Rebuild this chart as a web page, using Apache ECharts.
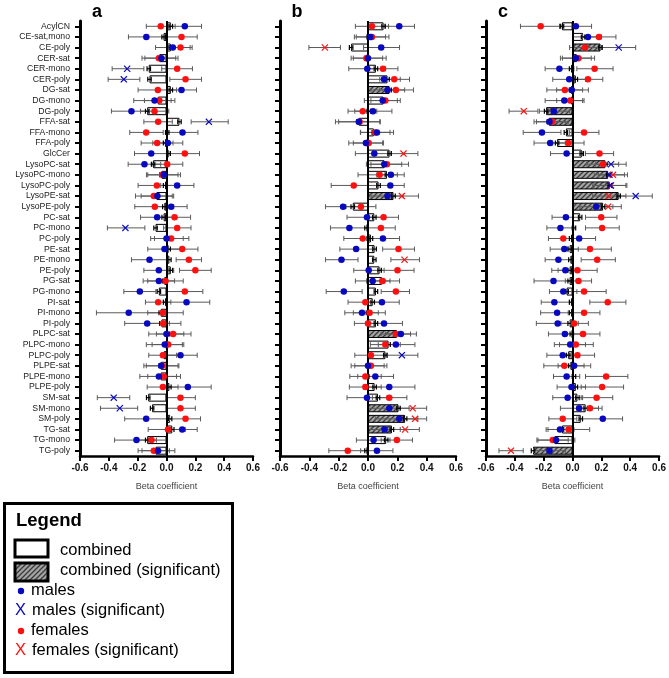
<!DOCTYPE html>
<html><head><meta charset="utf-8">
<script src="https://cdn.jsdelivr.net/npm/echarts@6/dist/echarts.min.js"></script>
<style>html,body{margin:0;padding:0;background:#fff}#c{width:669px;height:678px}</style>
</head><body><div id="c"></div>
<script>
const categories = ['AcylCN','CE-sat,mono','CE-poly','CER-sat','CER-mono','CER-poly','DG-sat','DG-mono','DG-poly','FFA-sat','FFA-mono','FFA-poly','GlcCer','LysoPC-sat','LysoPC-mono','LysoPC-poly','LysoPE-sat','LysoPE-poly','PC-sat','PC-mono','PC-poly','PE-sat','PE-mono','PE-poly','PG-sat','PG-mono','PI-sat','PI-mono','PI-poly','PLPC-sat','PLPC-mono','PLPC-poly','PLPE-sat','PLPE-mono','PLPE-poly','SM-sat','SM-mono','SM-poly','TG-sat','TG-mono','TG-poly'];
const panelLabels = ['a','b','c'];
const xMin = -0.6, xMax = 0.6, xStep = 0.2;
const COMB_ERR = 0.012;

// ---- panel a ----
const aComb = [0.03,-0.02,0.03,-0.05,-0.123,-0.118,0.03,-0.06,-0.134,0.09,0.005,-0.01,0.015,-0.093,-0.035,-0.01,-0.07,-0.015,-0.02,-0.076,0.005,0.015,0.02,0.03,-0.015,-0.053,-0.01,-0.04,-0.035,0.01,-0.005,-0.02,-0.04,-0.04,0.02,-0.127,-0.1,0.025,0.04,-0.134,-0.076];
const aCombSig = [];
const aMale = [[0.127,0.011,0.243],[-0.14,-0.264,-0.02],[0.044,-0.076,0.164],[-0.035,-0.15,0.08],[-0.273,-0.377,-0.157],[-0.296,-0.405,-0.185],[0.104,0.0,0.208],[-0.083,-0.227,0.032],[-0.243,-0.382,-0.12],[0.294,0.171,0.428],[0.111,0.003,0.218],[0.009,-0.095,0.113],[-0.106,-0.222,0.01],[-0.153,-0.266,-0.04],[-0.019,-0.13,0.097],[0.074,-0.04,0.19],[-0.063,-0.176,0.05],[0.032,-0.08,0.143],[-0.065,-0.18,0.05],[-0.285,-0.41,-0.15],[0,-0.11,0.116],[-0.014,-0.13,0.1],[-0.118,-0.243,0.007],[-0.053,-0.157,0.05],[-0.053,-0.162,0.056],[-0.185,-0.296,-0.074],[0.139,-0.02,0.3],[-0.262,-0.486,-0.04],[-0.134,-0.29,0.02],[0,-0.123,0.12],[-0.012,-0.14,0.11],[0.097,-0.02,0.213],[-0.037,-0.157,0.08],[-0.053,-0.185,0.07],[0.148,0.0,0.31],[-0.366,-0.48,-0.255],[-0.324,-0.458,-0.2],[-0.141,-0.29,0.0],[0.109,0.0,0.213],[-0.208,-0.36,-0.07],[-0.058,-0.17,0.058]];
const aMaleSig = [4,5,9,19,35,36];
const aFemale = [[-0.04,-0.14,0.06],[0.104,-0.005,0.213],[0.097,0.017,0.178],[-0.053,-0.17,0.064],[0.074,-0.033,0.18],[0.132,0.023,0.243],[-0.06,-0.197,0.07],[-0.05,-0.153,0.058],[-0.083,-0.18,0.016],[-0.058,-0.157,0.04],[-0.141,-0.255,-0.023],[-0.065,-0.176,0.045],[0.127,0.025,0.229],[0.005,-0.1,0.113],[-0.03,-0.139,0.08],[-0.067,-0.197,0.06],[-0.088,-0.215,0.04],[-0.081,-0.22,0.05],[0.056,-0.055,0.167],[0.074,-0.02,0.17],[0.032,-0.083,0.155],[0.109,0.0,0.218],[0.155,0.067,0.243],[0.2,0.09,0.31],[-0.007,-0.13,0.116],[0.127,0.002,0.252],[-0.058,-0.146,0.03],[-0.025,-0.13,0.116],[-0.023,-0.14,0.1],[0.046,-0.07,0.17],[0.012,-0.1,0.12],[-0.025,-0.123,0.07],[-0.03,-0.14,0.086],[-0.019,-0.13,0.097],[-0.025,-0.134,0.08],[0.097,-0.005,0.2],[0.097,0.0,0.2],[0.132,0.02,0.236],[0.01,-0.127,0.13],[-0.104,-0.21,0.0],[-0.088,-0.197,0.02]];
const aFemaleSig = [];

// ---- panel b ----
const bComb = [0.106,0.005,-0.115,-0.01,0.054,0.133,0.147,0.106,0.005,-0.063,0.04,-0.01,0.147,0.113,0.129,0.072,0.174,-0.104,0.043,-0.01,0.02,0.045,0.043,0.079,0.095,0.054,0.032,0,0.054,0.197,0.14,0.118,0.005,-0.005,0.045,0.068,0.208,0.253,0.163,0.124,-0.01];
const bCombSig = [6,16,29,36,37,38];
const bMale = [[0.213,0.11,0.317],[0.016,-0.093,0.12],[0.09,-0.03,0.215],[0,-0.1,0.124],[-0.005,-0.131,0.12],[0.109,0.0,0.22],[0.133,0.02,0.25],[0.1,-0.025,0.2],[0.034,-0.09,0.163],[-0.063,-0.222,0.08],[0.061,-0.05,0.174],[-0.014,-0.131,0.1],[0.043,-0.086,0.15],[0.111,-0.011,0.23],[0.156,0.06,0.247],[0.152,0.06,0.247],[0.133,0.02,0.24],[-0.17,-0.29,-0.05],[-0.007,-0.143,0.12],[-0.127,-0.256,0.0],[0.102,-0.01,0.215],[-0.081,-0.192,0.03],[-0.181,-0.29,-0.068],[0.005,-0.097,0.11],[0.032,-0.086,0.15],[-0.165,-0.285,-0.04],[0.095,-0.02,0.213],[-0.041,-0.158,0.07],[0.109,-0.01,0.235],[0.224,0.12,0.33],[0.19,0.07,0.32],[0.231,0.12,0.34],[0,-0.115,0.11],[0.05,-0.07,0.174],[0.145,-0.03,0.32],[-0.007,-0.143,0.13],[0.145,0.0,0.28],[0.213,0.05,0.34],[0.113,0.0,0.22],[0.038,-0.079,0.15],[0.061,-0.05,0.17]];
const bMaleSig = [31];
const bFemale = [[0.027,-0.086,0.14],[0.027,-0.08,0.143],[-0.294,-0.403,-0.188],[-0.011,-0.115,0.1],[0.102,0.0,0.204],[0.179,0.08,0.283],[0.19,0.08,0.31],[0.118,0.02,0.22],[-0.036,-0.136,0.06],[-0.057,-0.2,0.084],[0.05,-0.052,0.15],[0.005,-0.1,0.106],[0.242,0.14,0.34],[0.129,0.02,0.276],[0.079,-0.068,0.2],[-0.097,-0.251,0.06],[0.231,0.12,0.344],[-0.048,-0.15,0.054],[0.106,0.0,0.208],[0.088,-0.01,0.186],[-0.036,-0.165,0.09],[0.208,0.1,0.317],[0.249,0.156,0.351],[0.201,0.09,0.314],[0.1,-0.01,0.215],[0.19,0.09,0.283],[-0.018,-0.136,0.1],[0.011,-0.1,0.118],[0,-0.093,0.1],[0.19,0.09,0.29],[0.118,0.016,0.22],[0.02,-0.09,0.13],[0.02,-0.09,0.129],[-0.018,-0.124,0.09],[-0.018,-0.127,0.09],[0.145,0.03,0.265],[0.305,0.21,0.4],[0.321,0.24,0.4],[0.253,0.15,0.35],[0.197,0.09,0.303],[-0.138,-0.267,-0.01]];
const bFemaleSig = [2,12,16,22,36,37,38];

// ---- panel c ----
const cComb = [-0.073,0.073,0.194,0.03,-0.01,0.023,-0.01,-0.01,-0.183,-0.164,-0.046,-0.107,0.064,0.228,0.247,0.258,0.32,0.212,0.053,0.01,-0.01,-0.02,-0.015,-0.02,-0.02,-0.041,-0.01,-0.01,-0.02,-0.005,0,-0.03,-0.015,0.01,0.023,0.034,0.091,0.057,-0.073,-0.126,-0.274];
const cCombSig = [2,8,9,13,14,15,16,17,40];
const cMale = [[0.023,-0.09,0.132],[0.107,0.0,0.2],[0.32,0.2,0.438],[0.023,-0.084,0.13],[-0.091,-0.19,0.01],[-0.023,-0.137,0.09],[-0.005,-0.11,0.11],[-0.057,-0.19,0.07],[-0.13,-0.23,-0.02],[-0.16,-0.267,-0.05],[-0.212,-0.342,-0.08],[-0.155,-0.267,-0.05],[-0.041,-0.153,0.07],[0.267,0.16,0.372],[0.256,0.15,0.36],[0.263,0.14,0.377],[0.438,0.33,0.553],[0.164,0.05,0.28],[-0.046,-0.142,0.05],[-0.084,-0.178,0.01],[0.046,-0.06,0.16],[-0.057,-0.155,0.04],[-0.098,-0.19,0.0],[-0.05,-0.144,0.04],[-0.132,-0.267,0.0],[-0.064,-0.16,0.03],[-0.126,-0.217,-0.02],[-0.107,-0.221,0.0],[-0.103,-0.251,0.04],[-0.053,-0.167,0.06],[-0.016,-0.126,0.09],[-0.068,-0.178,0.04],[0.011,-0.1,0.126],[-0.041,-0.132,0.05],[-0.007,-0.107,0.09],[-0.034,-0.137,0.07],[0.046,-0.084,0.18],[0.21,0.07,0.347],[-0.087,-0.183,0.01],[-0.114,-0.24,0.016],[-0.16,-0.27,-0.05]];
const cMaleSig = [2,13,14,15,16];
const cFemale = [[-0.221,-0.361,-0.08],[0.183,0.07,0.301],[0.087,-0.02,0.2],[0.041,-0.07,0.153],[0.153,0.03,0.281],[0.107,0.0,0.21],[-0.053,-0.178,0.07],[-0.016,-0.11,0.08],[-0.338,-0.44,-0.24],[-0.142,-0.25,-0.03],[0.08,-0.02,0.183],[-0.03,-0.14,0.08],[0.187,0.09,0.285],[0.212,0.1,0.32],[0.281,0.18,0.381],[0.267,0.15,0.37],[0.251,0.14,0.37],[0.247,0.15,0.338],[0.199,0.09,0.308],[0.205,0.09,0.324],[-0.064,-0.167,0.04],[0.121,-0.03,0.269],[0.171,0.06,0.297],[0.034,-0.1,0.171],[0.041,-0.05,0.132],[0.08,-0.04,0.233],[0.244,0.12,0.37],[0.08,-0.03,0.19],[0.011,-0.08,0.11],[0.073,-0.04,0.19],[0.023,-0.09,0.144],[0.034,-0.08,0.153],[-0.057,-0.199,0.08],[0.233,0.09,0.384],[0.205,0.06,0.354],[0.167,0.06,0.279],[0.121,0.03,0.205],[-0.068,-0.164,0.03],[-0.027,-0.17,0.119],[-0.137,-0.247,-0.03],[-0.427,-0.51,-0.342]];
const cFemaleSig = [8,14,15,16,17,40];

const panels = [
  {comb:aComb, combSig:aCombSig, male:aMale, maleSig:aMaleSig, fem:aFemale, femSig:aFemaleSig},
  {comb:bComb, combSig:bCombSig, male:bMale, maleSig:bMaleSig, fem:bFemale, femSig:bFemaleSig},
  {comb:cComb, combSig:cCombSig, male:cMale, maleSig:cMaleSig, fem:cFemale, femSig:cFemaleSig}
];

const FONT = "'Liberation Sans', Arial, sans-serif";
const BLUE = '#0808c0', RED = '#ff1010', CI_GREY = '#5a5a5a';
const gridPos = [{left:80,width:173},{left:280,width:176},{left:486,width:175}];
const titleX = [97, 297, 503];

function makeHatch(){
  const c = document.createElement('canvas'); c.width = 5; c.height = 5;
  const g = c.getContext('2d');
  g.fillStyle = '#a4a4a4'; g.fillRect(0,0,5,5);
  g.strokeStyle = '#3a3a3a'; g.lineWidth = 1.3;
  g.beginPath();
  g.moveTo(-1,6); g.lineTo(6,-1);
  g.moveTo(-1,1); g.lineTo(1,-1);
  g.moveTo(4,6); g.lineTo(6,4);
  g.stroke();
  return c;
}
const hatchImg = makeHatch();
const hatchFill = {image: hatchImg, repeat: 'repeat'};

const XPATH = 'path://M0,1.2L1.2,0L5,3.8L8.8,0L10,1.2L6.2,5L10,8.8L8.8,10L5,6.2L1.2,10L0,8.8L3.8,5Z';

function ciRender(color, lw, cap){
  return function(params, api){
    const lo = api.value(1), hi = api.value(2), cat = api.value(3);
    const p1 = api.coord([lo, cat]), p2 = api.coord([hi, cat]);
    const st = {stroke: color, lineWidth: lw};
    return {type:'group', children:[
      {type:'line', shape:{x1:p1[0],y1:p1[1],x2:p2[0],y2:p2[1]}, style:st},
      {type:'line', shape:{x1:p1[0],y1:p1[1]-cap,x2:p1[0],y2:p1[1]+cap}, style:st},
      {type:'line', shape:{x1:p2[0],y1:p2[1]-cap,x2:p2[0],y2:p2[1]+cap}, style:st}
    ]};
  };
}

const grid = [], xAxis = [], yAxis = [], series = [];
panels.forEach((p, i) => {
  grid.push({left: gridPos[i].left, width: gridPos[i].width, top: 21, height: 435});
  xAxis.push({gridIndex:i, type:'value', min:xMin, max:xMax, interval:xStep,
    name:'Beta coefficient', nameLocation:'middle', nameGap:26,
    nameTextStyle:{fontSize:9, color:'#444', fontFamily:FONT},
    axisLine:{show:true, onZero:false, lineStyle:{color:'#000', width:2.5}},
    axisTick:{show:true, length:5, lineStyle:{color:'#000', width:2}},
    axisLabel:{fontSize:10, fontWeight:'bold', color:'#111', margin:7, fontFamily:FONT,
      formatter: v => Math.abs(v) < 1e-9 ? '0.0' : v.toFixed(1)},
    splitLine:{show:false}});
  yAxis.push({gridIndex:i, type:'category', data:categories, inverse:true,
    axisLine:{show:true, onZero:false, lineStyle:{color:'#000', width:3}},
    axisTick:{show:true, alignWithLabel:true, interval:0, length:5, lineStyle:{color:'#000', width:2}},
    axisLabel:{show:i===0, interval:0, fontSize:8.7, color:'#222', margin:10, fontFamily:FONT},
    splitLine:{show:false}});
  const sigSet = new Set(p.combSig);
  series.push({type:'bar', xAxisIndex:i, yAxisIndex:i, barWidth:8, z:2,
    data: p.comb.map((v, k) => sigSet.has(k)
      ? {value:v, itemStyle:{color:hatchFill, borderColor:'#000', borderWidth:1}}
      : {value:v, itemStyle:{color:'#fff', borderColor:'#000', borderWidth:1}}),
    markLine:{silent:true, symbol:'none', label:{show:false}, animation:false,
      lineStyle:{color:'#000', width:2, type:'solid'}, data:[{xAxis:0}]}
  });
  const ciData = (arr) => arr.map((t, k) => [t[0], t[1], t[2], k]);
  series.push({type:'custom', xAxisIndex:i, yAxisIndex:i, z:3, renderItem: ciRender(CI_GREY, 1, 2.5),
    encode:{x:[0,1,2], y:3}, data: ciData(p.male)});
  series.push({type:'custom', xAxisIndex:i, yAxisIndex:i, z:3, renderItem: ciRender(CI_GREY, 1, 2.5),
    encode:{x:[0,1,2], y:3}, data: ciData(p.fem)});
  series.push({type:'custom', xAxisIndex:i, yAxisIndex:i, z:4, renderItem: ciRender('#000', 1.2, 2.5),
    encode:{x:[0,1,2], y:3}, data: p.comb.map((v, k) => [v, v - COMB_ERR, v + COMB_ERR, k])});
  const mSig = new Set(p.maleSig), fSig = new Set(p.femSig);
  const pts = (arr, set, want) => arr.map((t, k) => [t[0], k]).filter((d, k) => set.has(k) === want);
  series.push({type:'scatter', xAxisIndex:i, yAxisIndex:i, z:5, symbol:'circle', symbolSize:6.5,
    itemStyle:{color:RED, opacity:1}, data: pts(p.fem, fSig, false)});
  series.push({type:'scatter', xAxisIndex:i, yAxisIndex:i, z:5, symbol:'circle', symbolSize:6.5,
    itemStyle:{color:BLUE, opacity:1}, data: pts(p.male, mSig, false)});
  series.push({type:'scatter', xAxisIndex:i, yAxisIndex:i, z:6, symbol:XPATH, symbolSize:7,
    itemStyle:{color:RED, opacity:1}, data: pts(p.fem, fSig, true)});
  series.push({type:'scatter', xAxisIndex:i, yAxisIndex:i, z:6, symbol:XPATH, symbolSize:7,
    itemStyle:{color:BLUE, opacity:1}, data: pts(p.male, mSig, true)});
});

const graphic = [];
panelLabels.forEach((t, i) => graphic.push({type:'text', x:titleX[i], y:12,
  style:{text:t, font:"bold 18px " + FONT, fill:'#000', textAlign:'center', textVerticalAlign:'middle', align:'center', verticalAlign:'middle'}}));
// legend box
graphic.push({type:'rect', shape:{x:4.5, y:503.5, width:228, height:169}, style:{fill:'#fff', stroke:'#000', lineWidth:3}});
const lt = (text, x, y, size, bold, color) => ({type:'text', x:x, y:y,
  style:{text:text, font:(bold?'bold ':'') + size + 'px ' + FONT, fill:color||'#000', textAlign:'left', textVerticalAlign:'middle', align:'left', verticalAlign:'middle'}});
graphic.push(lt('Legend', 16, 521, 18.5, true));
graphic.push({type:'rect', shape:{x:15, y:540, width:33, height:17}, style:{fill:'#fff', stroke:'#000', lineWidth:3}});
graphic.push(lt('combined', 60, 550, 16.5));
graphic.push({type:'rect', shape:{x:15, y:563, width:33, height:18}, style:{fill:hatchFill, stroke:'#000', lineWidth:3}});
graphic.push(lt('combined (significant)', 60, 570, 16.5));
graphic.push({type:'circle', shape:{cx:21, cy:591, r:3.2}, style:{fill:BLUE}});
graphic.push(lt('males', 31, 590, 16.5));
graphic.push(lt('X', 15, 610, 16.5, false, BLUE));
graphic.push(lt('males (significant)', 32, 610, 16.5));
graphic.push({type:'circle', shape:{cx:21, cy:631, r:3.2}, style:{fill:RED}});
graphic.push(lt('females', 31, 630, 16.5));
graphic.push(lt('X', 15, 650, 16.5, false, RED));
graphic.push(lt('females (significant)', 32, 650, 16.5));

const chart = echarts.init(document.getElementById('c'), null, {renderer:'canvas'});
chart.setOption({animation:false, backgroundColor:'#fff', textStyle:{fontFamily:FONT},
  grid, xAxis, yAxis, series, graphic});
</script></body></html>
